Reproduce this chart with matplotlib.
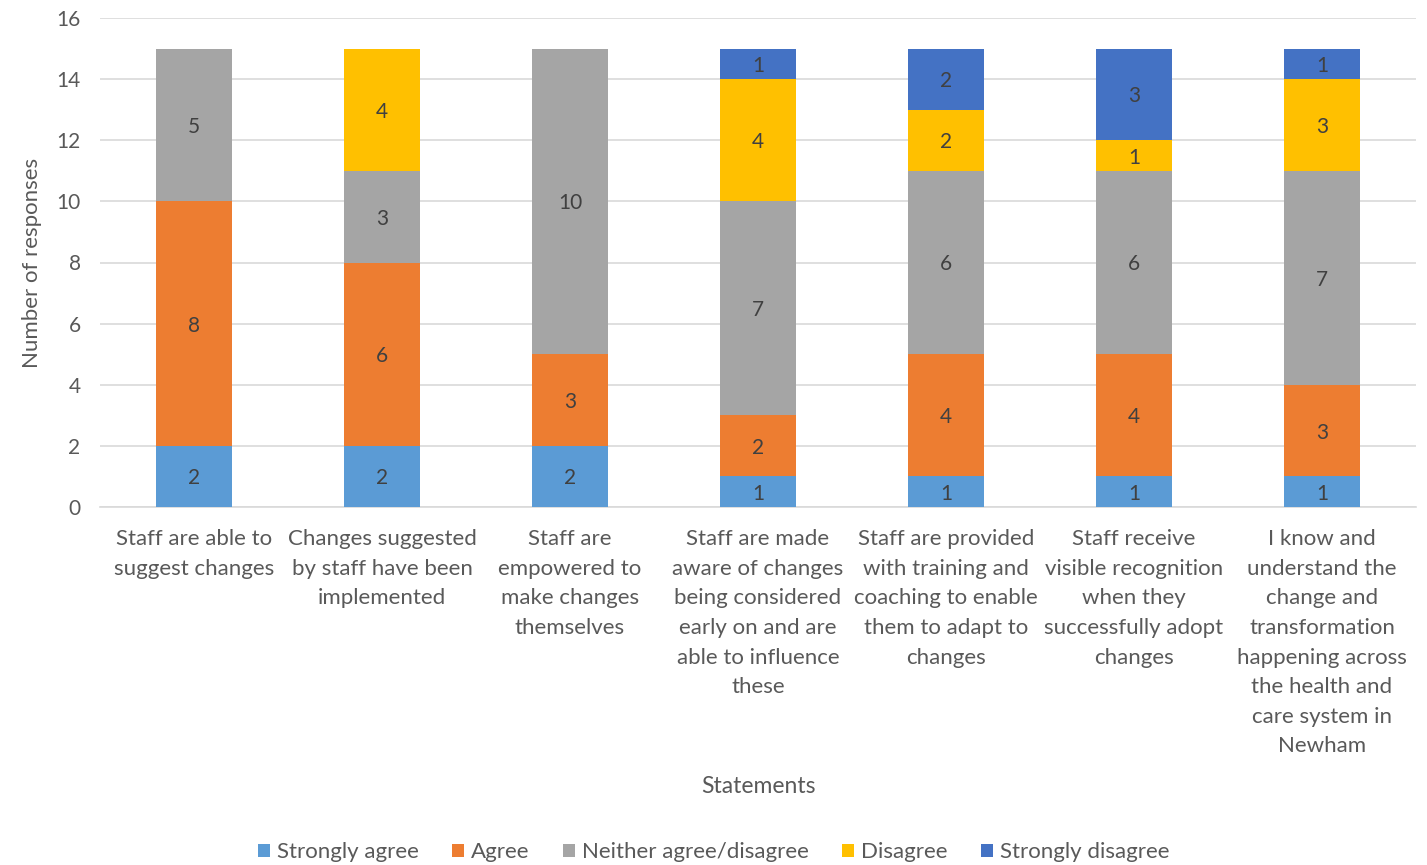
import matplotlib
matplotlib.use("Agg")
import matplotlib.pyplot as plt
import numpy as np

plt.rcParams['font.family'] = ['Lato', 'DejaVu Sans']

categories = [
    "Staff are able to\nsuggest changes",
    "Changes suggested\nby staff have been\nimplemented",
    "Staff are\nempowered to\nmake changes\nthemselves",
    "Staff are made\naware of changes\nbeing considered\nearly on and are\nable to influence\nthese",
    "Staff are provided\nwith training and\ncoaching to enable\nthem to adapt to\nchanges",
    "Staff receive\nvisible recognition\nwhen they\nsuccessfully adopt\nchanges",
    "I know and\nunderstand the\nchange and\ntransformation\nhappening across\nthe health and\ncare system in\nNewham",
]
series_names = ["Strongly agree", "Agree", "Neither agree/disagree", "Disagree", "Strongly disagree"]
strongly_agree = [2, 2, 2, 1, 1, 1, 1]
agree = [8, 6, 3, 2, 4, 4, 3]
neither = [5, 3, 10, 7, 6, 6, 7]
disagree = [0, 4, 0, 4, 2, 1, 3]
strongly_disagree = [0, 0, 0, 1, 2, 3, 1]
colors = ["#5B9BD5", "#ED7D31", "#A5A5A5", "#FFC000", "#4472C4"]

series = [strongly_agree, agree, neither, disagree, strongly_disagree]

fig = plt.figure(figsize=(14.27, 8.65), dpi=100)
ax = fig.add_axes([100/1427, 1 - 507/865, 1316/1427, (507-18)/865])

x = np.arange(len(categories))
bottom = np.zeros(len(categories))
text_color = "#404040"
for vals, name, col in zip(series, series_names, colors):
    vals = np.array(vals, dtype=float)
    ax.bar(x, vals, width=0.4, bottom=bottom, color=col, label=name, zorder=3)
    for xi, b, v in zip(x, bottom, vals):
        if v > 0:
            ax.text(xi, b + v/2, f"{int(v)}", ha='center', va='center_baseline',
                    fontsize=15, color=text_color, zorder=4)
    bottom += vals

ax.set_xlim(-0.5, len(categories) - 0.5)
ax.set_ylim(0, 16)
ax.set_yticks(np.arange(0, 17, 2))
ax.yaxis.grid(True, color="#D9D9D9", linewidth=1.2, zorder=0)
ax.set_axisbelow(True)
for s in ['top', 'right', 'left']:
    ax.spines[s].set_visible(False)
ax.spines['bottom'].set_color("#D9D9D9")
ax.spines['bottom'].set_linewidth(1.2)
ax.tick_params(axis='both', length=0, colors="#595959", labelsize=15)
ax.tick_params(axis='y', pad=14)
ax.set_xticks(x)
ax.set_xticklabels(categories, fontsize=16, color="#595959", linespacing=1.6)
ax.tick_params(axis='x', pad=16)
ax.set_ylabel("Number of responses", fontsize=16, color="#595959", labelpad=10)
ax.set_xlabel("Statements", fontsize=16.5, color="#595959", labelpad=14)

leg = fig.legend(loc='lower center', bbox_to_anchor=(0.5, -0.02), ncol=5, frameon=False,
                 fontsize=16, handlelength=0.55, handleheight=0.55, handletextpad=0.3,
                 columnspacing=1.5, labelcolor="#595959")

fig.savefig("out.png", dpi=100)
